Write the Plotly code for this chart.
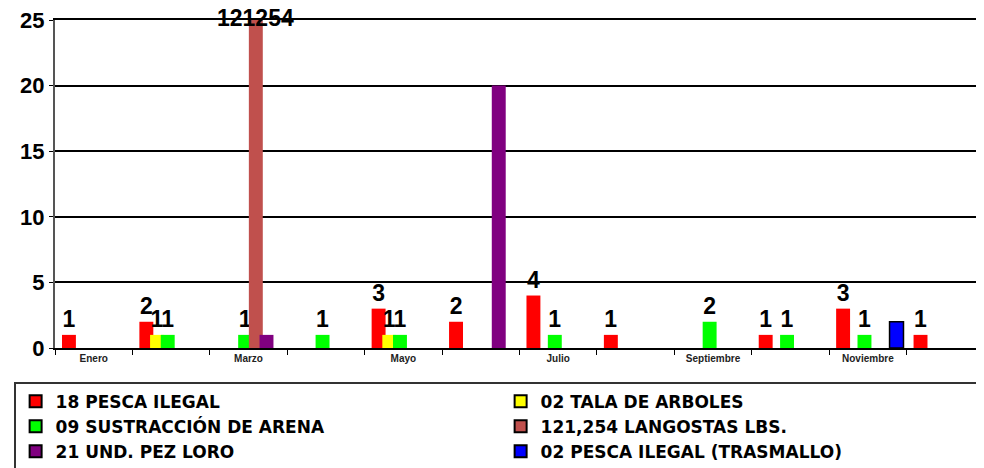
import plotly.graph_objects as go
import numpy as np

months = ["Enero", "Febrero", "Marzo", "Abril", "Mayo", "Junio", "Julio",
          "Agosto", "Septiembre", "Octubre", "Noviembre", "Diciembre"]
tick_labels = ["Enero", "", "Marzo", "", "Mayo", "", "Julio", "",
               "Septiembre", "", "Noviembre", ""]

pesca_ilegal = [1, 2, 0, 0, 3, 2, 4, 1, 0, 1, 3, 1]
tala_arboles = [0, 1, 0, 0, 1, 0, 0, 0, 0, 0, 0, 0]
sustraccion_arena = [0, 1, 1, 1, 1, 0, 1, 0, 2, 1, 1, 0]
langostas_lbs = [0, 0, 121254, 0, 0, 0, 0, 0, 0, 0, 0, 0]
pez_loro = [0, 0, 1, 0, 0, 20, 0, 0, 0, 0, 0, 0]
pesca_trasmallo = [0, 0, 0, 0, 0, 0, 0, 0, 0, 0, 2, 0]

series_names = ["18 PESCA ILEGAL", "02 TALA DE ARBOLES", "09 SUSTRACCIÓN DE ARENA",
                "121,254 LANGOSTAS LBS.", "21 UND. PEZ LORO",
                "02 PESCA ILEGAL (TRASMALLO)"]
series_values = [pesca_ilegal, tala_arboles, sustraccion_arena, langostas_lbs,
                 pez_loro, pesca_trasmallo]
colors = ["#FF0000", "#FFFF00", "#00FF00", "#C0504D", "#800080", "#0000FF"]
outlined = [False, False, False, False, False, True]
show_labels = [True, True, True, True, False, False]

Y_MAX = 25
Y_TICKS = [0, 5, 10, 15, 20, 25]
BAR_W = 0.18
STEP = 0.138
START = -0.41
LABEL_FONT = dict(family="Liberation Sans, Arial", size=23, color="black", weight="bold")

fig = go.Figure()
annotations = []
for i, (name, vals, col, lab, outl) in enumerate(zip(series_names, series_values, colors,
                                                    show_labels, outlined)):
    vals = np.array(vals)
    shown = np.minimum(vals, Y_MAX)
    text = []
    for j, v in enumerate(vals):
        if lab and v > 0 and v <= Y_MAX:
            text.append(str(v))
        else:
            text.append("")
        if lab and v > Y_MAX:
            # value exceeds the axis: label sits on the top edge of the plot
            annotations.append(dict(
                x=j + START + i * STEP + BAR_W / 2, y=shown[j], xref="x", yref="y",
                text=str(v), showarrow=False, yanchor="middle", yshift=2,
                font=LABEL_FONT,
            ))
    lw = [1.5 if (outl and v > 0) else 0 for v in vals]
    fig.add_trace(go.Bar(
        x=months, y=shown, name=name,
        marker=dict(color=col, line=dict(width=lw, color="black")),
        width=BAR_W, offset=START + i * STEP,
        text=text, textposition="outside", cliponaxis=False, constraintext="none",
        textfont=LABEL_FONT,
        hoverinfo="skip",
    ))

fig.update_layout(
    barmode="overlay",
    width=976, height=460,
    margin=dict(l=47, r=0, t=12, b=120, autoexpand=False),
    plot_bgcolor="white", paper_bgcolor="white",
    font=dict(family="Liberation Sans, Arial", color="black"),
    annotations=annotations,
    legend=dict(
        orientation="h", x=-0.044, xanchor="left", y=-0.104, yanchor="top",
        entrywidth=440, entrywidthmode="pixels",
        bordercolor="#333333", borderwidth=1.5,
        font=dict(family="DejaVu Sans, Liberation Sans", size=17, color="black", weight="bold"),
        tracegroupgap=0, itemsizing="constant", traceorder="normal",
    ),
    showlegend=True,
)

fig.update_xaxes(
    type="category", categoryorder="array", categoryarray=months,
    tickmode="array", tickvals=months, ticktext=tick_labels,
    tickson="boundaries", ticks="outside", ticklen=5, tickcolor="black",
    tickfont=dict(size=10, color="#222222", weight="bold"),
    showline=True, linecolor="black", linewidth=2, mirror=True,
    showgrid=False, range=[-0.5, 11.5], automargin=False,
)
fig.update_yaxes(
    range=[0, Y_MAX], tickmode="array", tickvals=Y_TICKS,
    ticktext=[str(t) for t in Y_TICKS], ticklabeloverflow="allow",
    ticks="outside", ticklen=4, tickcolor="black",
    tickfont=dict(size=22, color="black", weight="bold"),
    showline=True, linecolor="#555555", linewidth=2,
    showgrid=True, gridcolor="black", gridwidth=1.5,
    zeroline=False, automargin=False, mirror=False,
)

fig.write_html("out.html")
